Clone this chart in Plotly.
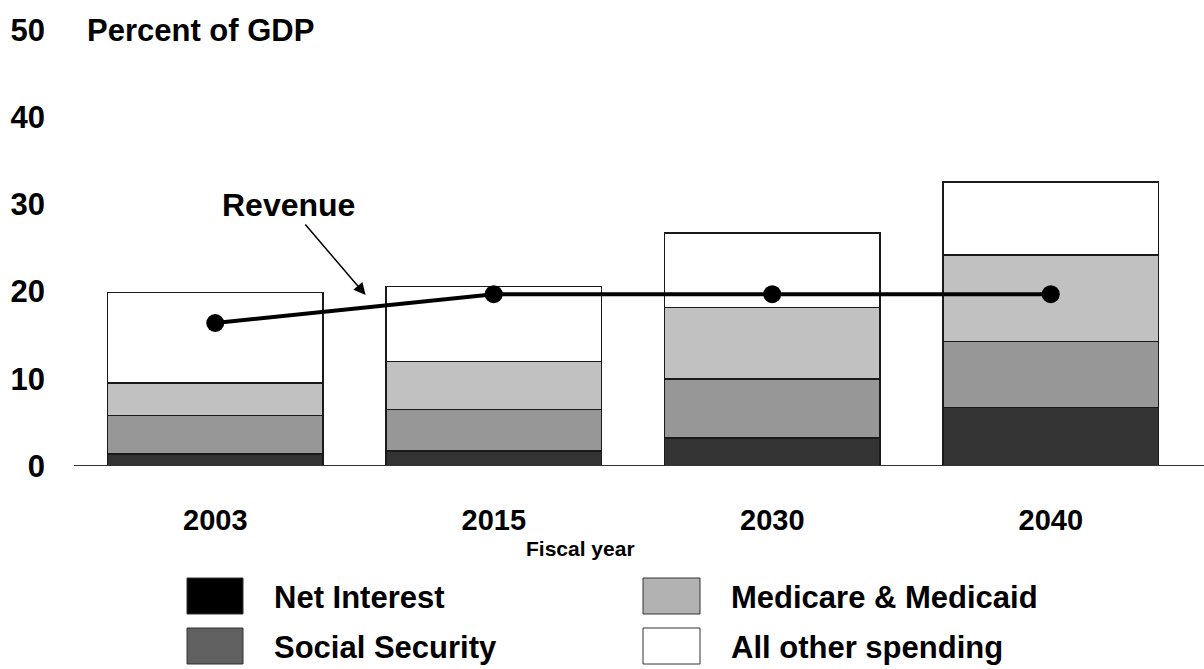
import plotly.graph_objects as go

years = ["2003", "2015", "2030", "2040"]
net_interest = [1.4, 1.7, 3.2, 6.7]
social_security = [4.4, 4.8, 6.8, 7.6]
medicare_medicaid = [3.7, 5.5, 8.2, 9.9]
all_other = [10.4, 8.6, 8.5, 8.4]
revenue = [16.4, 19.7, 19.7, 19.7]
y_ticks = [0, 10, 20, 30, 40, 50]

series = [
    ("Net Interest", net_interest, "#333333", "#000000"),
    ("Social Security", social_security, "#979797", "#606060"),
    ("Medicare & Medicaid", medicare_medicaid, "#c1c1c1", "#b2b2b2"),
    ("All other spending", all_other, "#ffffff", "#ffffff"),
]

FONT = "Liberation Sans, Arial, Helvetica, sans-serif"
W, H = 1204, 669
L, R, T, B = 76, 14, 30, 203
PW, PH = W - L - R, H - T - B


def px(x):
    return (x - L) / PW


def py(y):
    return (H - B - y) / PH


fig = go.Figure()
for name, vals, col, _ in series:
    fig.add_trace(go.Bar(
        x=years, y=vals, name=name,
        marker=dict(color=col, line=dict(color="#1a1a1a", width=1.6)),
        showlegend=False,
    ))

fig.add_trace(go.Scatter(
    x=years, y=revenue, mode="lines+markers", name="Revenue",
    line=dict(color="#000000", width=4),
    marker=dict(color="#000000", size=18),
    showlegend=False,
))

annotations = [
    dict(x=0.54, y=19.6, xref="x", yref="y", text="<b>Revenue</b>",
         showarrow=True, arrowhead=2, arrowsize=1.6, arrowwidth=1.5,
         arrowcolor="#000000", ax=-77, ay=-90,
         font=dict(family=FONT, size=32, color="#000000")),
    dict(x=px(85), y=50, xref="paper", yref="y", xanchor="left", yanchor="middle",
         text="<b>Percent of GDP</b>", showarrow=False,
         font=dict(family=FONT, size=31, color="#000000")),
    dict(x=px(580), y=py(548), xref="paper", yref="paper", xanchor="center",
         yanchor="middle", text="<b>Fiscal year</b>", showarrow=False,
         font=dict(family=FONT, size=21, color="#000000")),
]

shapes = [
    dict(type="line", xref="paper", yref="y", x0=px(74), x1=px(1204), y0=0, y1=0,
         line=dict(color="#333333", width=2), layer="above"),
]

legend_pos = [(187, 578, 272), (187, 628, 272), (643, 578, 729), (643, 628, 729)]
for (name, _, _, lcol), (sx, sy, tx) in zip(series, legend_pos):
    sw = 57 if sx > 600 else 56
    shapes.append(dict(type="rect", xref="paper", yref="paper",
                       x0=px(sx), x1=px(sx + sw), y0=py(sy), y1=py(sy + 36),
                       fillcolor=lcol, line=dict(color="#333333", width=1)))
    annotations.append(dict(x=px(tx), y=py(sy + 19), xref="paper", yref="paper",
                            xanchor="left", yanchor="middle", text="<b>" + name + "</b>",
                            showarrow=False,
                            font=dict(family=FONT, size=31, color="#000000")))

fig.update_layout(
    barmode="stack",
    bargap=0.225,
    width=W, height=H,
    margin=dict(l=L, r=R, t=T, b=B, autoexpand=False),
    paper_bgcolor="#ffffff", plot_bgcolor="#ffffff",
    font=dict(family=FONT, color="#000000"),
    annotations=annotations,
    shapes=shapes,
    xaxis=dict(
        type="category", showgrid=False, zeroline=False, showline=False,
        tickfont=dict(family=FONT, size=29, color="#000000", weight="bold"),
        ticks="", ticklabelstandoff=34,
    ),
    yaxis=dict(
        range=[0, 50], tickvals=y_ticks, showgrid=False, zeroline=False,
        showline=False, ticks="",
        tickfont=dict(family=FONT, size=31, color="#000000", weight="bold"),
        ticklabelstandoff=30,
    ),
)

fig.write_html(
    "out.html",
    config={"displayModeBar": False},
    post_script="document.body.style.margin='0';document.body.style.padding='0';",
)
